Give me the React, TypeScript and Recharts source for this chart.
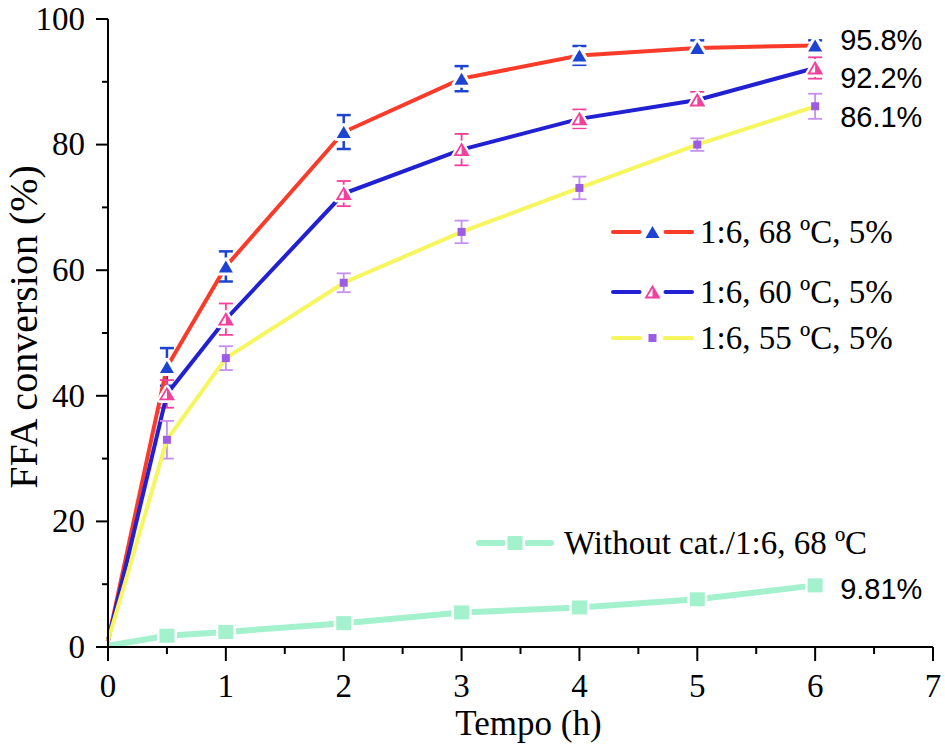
import React from "react";
import { LineChart, Line, XAxis, YAxis, ErrorBar, Legend } from "recharts";

// time (h) and FFA conversion (%)
const hours = [0, 0.5, 1, 2, 3, 4, 5, 6];
const conv68 = [1.0, 44.6, 60.6, 82.0, 90.5, 94.2, 95.4, 95.8];
const err68 = [null, 3.0, 2.4, 2.7, 2.0, 1.5, 1.2, 0.8];
const conv60 = [1.0, 40.3, 52.2, 72.2, 79.2, 84.1, 87.1, 92.2];
const err60 = [null, 2.2, 2.5, 2.0, 2.5, 1.5, 1.3, 1.7];
const conv55 = [1.0, 33.0, 46.0, 58.0, 66.1, 73.1, 80.0, 86.1];
const err55 = [null, 3.0, 1.9, 1.5, 1.8, 1.8, 1.0, 2.0];
const convNoCat = [0.2, 1.8, 2.4, 3.8, 5.5, 6.3, 7.6, 9.81];

const seriesNames = [
  "1:6, 68 ºC, 5%",
  "1:6, 60 ºC, 5%",
  "1:6, 55 ºC, 5%",
  "Without cat./1:6, 68 ºC",
];

const xTicks = [0, 0.5, 1, 1.5, 2, 2.5, 3, 3.5, 4, 4.5, 5, 5.5, 6, 6.5, 7];
const yTicks = [0, 10, 20, 30, 40, 50, 60, 70, 80, 90, 100];

const data = hours.map((t, i) => ({
  t,
  a: conv68[i],
  ea: err68[i],
  b: conv60[i],
  eb: err60[i],
  c: conv55[i],
  ec: err55[i],
  d: convNoCat[i],
}));

const SERIF = '"Liberation Serif", "Times New Roman", serif';
const SANS = '"Liberation Sans", Arial, sans-serif';

const RED = "#fa3b2a";
const BLUE_LINE = "#2121d3";
const BLUE_MARK = "#1d43d2";
const PINK = "#f2409c";
const YELLOW = "#f6f65f";
const PURPLE = "#9c5ce6";
const PURPLE_ERR = "#c690ee";
const MINT = "#a3f1cd";

type MarkerKind = "solidTri" | "halfTri" | "square" | "bigSquare";

function triPoints(cx: number, cy: number, w: number, h: number) {
  return `${cx},${cy - h / 2} ${cx - w / 2},${cy + h / 2} ${cx + w / 2},${cy + h / 2}`;
}

function Marker({ kind, cx, cy }: { kind: MarkerKind; cx: number; cy: number }) {
  if (kind === "solidTri") {
    return (
      <g>
        <polygon points={triPoints(cx, cy, 14, 12)} fill="#fff" stroke="#fff" strokeWidth={6} strokeLinejoin="round" />
        <polygon points={triPoints(cx, cy, 14, 12)} fill={BLUE_MARK} />
      </g>
    );
  }
  if (kind === "halfTri") {
    return (
      <g>
        <polygon points={triPoints(cx, cy, 14, 12)} fill="#fff" stroke="#fff" strokeWidth={6} strokeLinejoin="round" />
        <polygon points={triPoints(cx, cy, 13, 11)} fill="#fff" stroke={PINK} strokeWidth={1.8} />
        <polygon points={`${cx},${cy - 5.5} ${cx + 6.5},${cy + 5.5} ${cx},${cy + 5.5}`} fill={PINK} />
      </g>
    );
  }
  if (kind === "square") {
    return <rect x={cx - 4} y={cy - 4} width={8} height={8} fill={PURPLE} />;
  }
  return (
    <g>
      <rect x={cx - 10} y={cy - 9.5} width={20} height={19} fill="#fff" />
      <rect x={cx - 7.5} y={cy - 7} width={15} height={14} fill={MINT} />
    </g>
  );
}

// end-of-curve text offsets (layout only)
const endLabelOffset = [-6, 9.5, 10.5, 3];

function makeDot(kind: MarkerKind, values: number[], seriesIdx: number) {
  const last = values.length - 1;
  return (props: any) => {
    const { cx, cy, index } = props;
    if (index === 0 || cx == null || cy == null) return <g key={`dot-${seriesIdx}-${index}`} />;
    return (
      <g key={`dot-${seriesIdx}-${index}`}>
        <Marker kind={kind} cx={cx} cy={cy} />
        {index === last && (
          <text
            x={cx + 25}
            y={cy + endLabelOffset[seriesIdx]}
            dy="0.35em"
            fontFamily={SANS}
            fontSize={29}
            fill="#000"
          >
            {`${values[last]}%`}
          </text>
        )}
      </g>
    );
  };
}

function XTick(props: any) {
  const { x, y, payload } = props;
  const major = Number.isInteger(payload.value);
  return (
    <g>
      <line x1={x} x2={x} y1={y} y2={y + (major ? 14 : 7)} stroke="#000" strokeWidth={2} />
      {major && (
        <text x={x} y={y + 50} textAnchor="middle" fontFamily={SERIF} fontSize={33} fill="#000">
          {payload.value}
        </text>
      )}
    </g>
  );
}

function YTick(props: any) {
  const { x, y, payload } = props;
  const major = payload.value % 20 === 0;
  return (
    <g>
      <line x1={x} x2={x - (major ? 12 : 6)} y1={y} y2={y} stroke="#000" strokeWidth={2} />
      {major && (
        <text x={x - 23} y={y} dy="0.33em" textAnchor="end" fontFamily={SERIF} fontSize={33} fill="#000">
          {payload.value}
        </text>
      )}
    </g>
  );
}

// legend rows drawn inside the plot
const legendRows = [
  { name: seriesNames[0], color: RED, width: 4, kind: "solidTri" as MarkerKind, x0: 613, x1: 692, gap: 13, y: 232, tx: 700 },
  { name: seriesNames[1], color: BLUE_LINE, width: 4, kind: "halfTri" as MarkerKind, x0: 613, x1: 692, gap: 13, y: 292, tx: 700 },
  { name: seriesNames[2], color: YELLOW, width: 4, kind: "square" as MarkerKind, x0: 613, x1: 692, gap: 12, y: 338, tx: 700 },
  { name: seriesNames[3], color: MINT, width: 6, kind: "bigSquare" as MarkerKind, x0: 479, x1: 551, gap: 12, y: 543, tx: 564 },
];

function LegendBox() {
  return (
    <svg width={945} height={754} style={{ position: "absolute", left: 0, top: 0, overflow: "visible" }}>
      {legendRows.map((r) => {
        const mid = (r.x0 + r.x1) / 2;
        return (
          <g key={r.name}>
            <line x1={r.x0} x2={mid - r.gap} y1={r.y} y2={r.y} stroke={r.color} strokeWidth={r.width} strokeLinecap="round" />
            <line x1={mid + r.gap} x2={r.x1} y1={r.y} y2={r.y} stroke={r.color} strokeWidth={r.width} strokeLinecap="round" />
            <Marker kind={r.kind} cx={mid} cy={r.y} />
            <text x={r.tx} y={r.y} dy="0.33em" fontFamily={SERIF} fontSize={33} fill="#000">
              {r.name}
            </text>
          </g>
        );
      })}
    </svg>
  );
}

export default function App() {
  return (
    <div style={{ position: "absolute", left: 0, top: 0, width: 945, height: 754, background: "#fff" }}>
      <LineChart width={945} height={754} data={data} margin={{ top: 19, right: 12, left: 0, bottom: 0 }}>
        <XAxis
          dataKey="t"
          type="number"
          domain={[0, 7]}
          ticks={xTicks}
          interval={0}
          height={107}
          tickSize={0}
          tickMargin={0}
          tickLine={false}
          tick={<XTick />}
          axisLine={{ stroke: "#000", strokeWidth: 2 }}
          label={{
            value: "Tempo (h)",
            position: "insideBottom",
            offset: 19,
            dx: 8,
            fill: "#000",
            fontSize: 35,
            fontFamily: SERIF,
          }}
        />
        <XAxis
          xAxisId="top"
          orientation="top"
          type="number"
          domain={[0, 7]}
          height={0}
          tick={false}
          tickLine={false}
          axisLine={{ stroke: "#000", strokeWidth: 2 }}
        />
        <YAxis
          type="number"
          domain={[0, 100]}
          ticks={yTicks}
          interval={0}
          width={108}
          tickSize={0}
          tickMargin={0}
          tickLine={false}
          tick={<YTick />}
          axisLine={{ stroke: "#000", strokeWidth: 2 }}
          label={{
            value: "FFA conversion (%)",
            angle: -90,
            position: "insideLeft",
            offset: 23,
            dy: -6,
            fill: "#000",
            fontSize: 40,
            fontFamily: SERIF,
            style: { textAnchor: "middle" },
          }}
        />
        <YAxis
          yAxisId="right"
          orientation="right"
          type="number"
          domain={[0, 100]}
          width={0}
          tick={false}
          tickLine={false}
          axisLine={{ stroke: "#000", strokeWidth: 2 }}
        />
        <Legend
          layout="horizontal"
          verticalAlign="middle"
          align="center"
          wrapperStyle={{ position: "absolute", left: 0, top: 0, width: 945, height: 754, pointerEvents: "none" }}
          content={() => <LegendBox />}
        />
        <Line
          name={seriesNames[0]}
          dataKey="a"
          type="linear"
          stroke={RED}
          strokeWidth={4}
          dot={makeDot("solidTri", conv68, 0)}
          activeDot={false}
          isAnimationActive={false}
        >
          <ErrorBar dataKey="ea" direction="y" width={7} stroke={BLUE_MARK} strokeWidth={2.5} isAnimationActive={false} />
        </Line>
        <Line
          name={seriesNames[1]}
          dataKey="b"
          type="linear"
          stroke={BLUE_LINE}
          strokeWidth={4}
          dot={makeDot("halfTri", conv60, 1)}
          activeDot={false}
          isAnimationActive={false}
        >
          <ErrorBar dataKey="eb" direction="y" width={7} stroke={PINK} strokeWidth={1.8} isAnimationActive={false} />
        </Line>
        <Line
          name={seriesNames[2]}
          dataKey="c"
          type="linear"
          stroke={YELLOW}
          strokeWidth={4}
          dot={makeDot("square", conv55, 2)}
          activeDot={false}
          isAnimationActive={false}
        >
          <ErrorBar dataKey="ec" direction="y" width={7} stroke={PURPLE_ERR} strokeWidth={1.8} isAnimationActive={false} />
        </Line>
        <Line
          name={seriesNames[3]}
          dataKey="d"
          type="linear"
          stroke={MINT}
          strokeWidth={6}
          dot={makeDot("bigSquare", convNoCat, 3)}
          activeDot={false}
          isAnimationActive={false}
        />
      </LineChart>
    </div>
  );
}
